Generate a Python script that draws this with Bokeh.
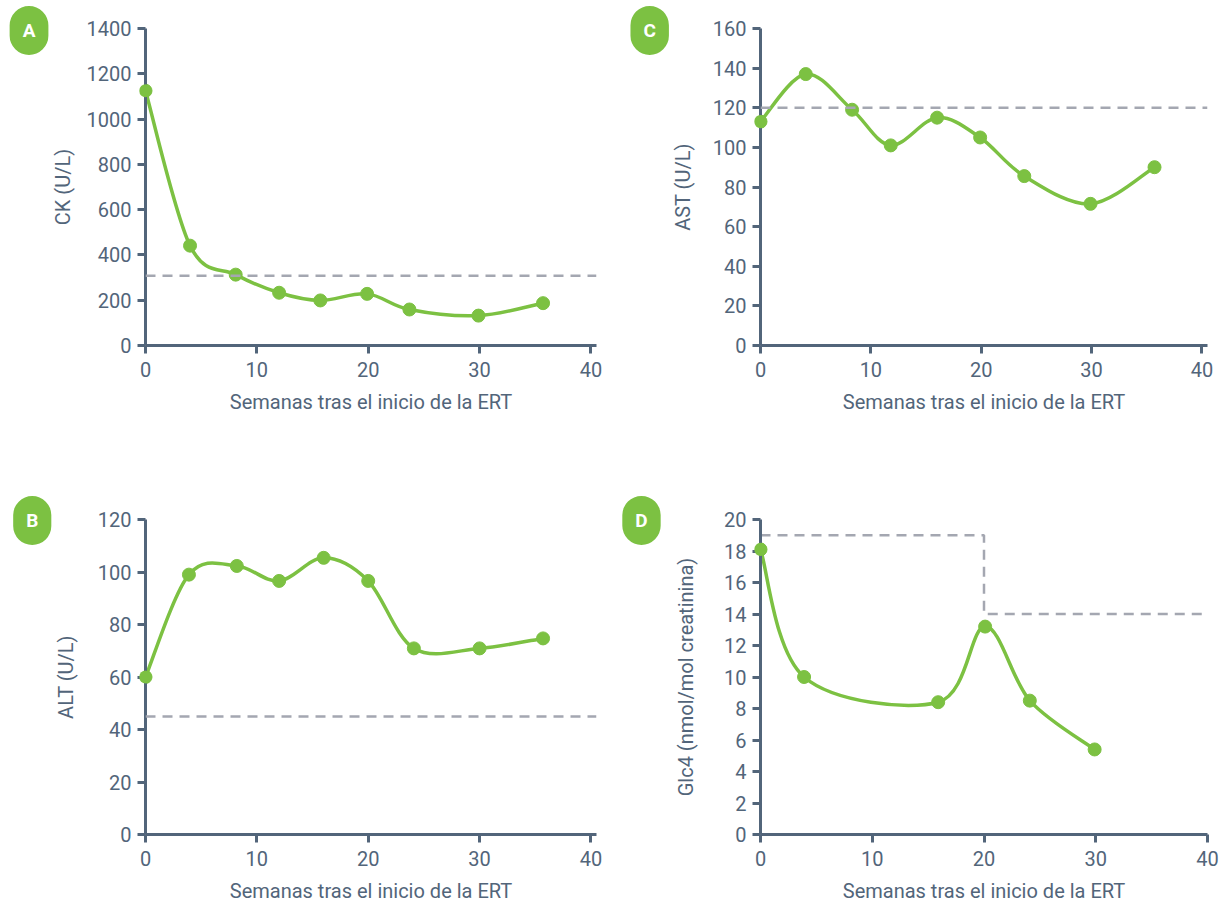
from bokeh.plotting import figure
from bokeh.models import FixedTicker, Label, Span
from bokeh.layouts import gridplot
from bokeh.embed import file_html
from bokeh.resources import INLINE

# ---------------- data ----------------
weeks_ck = [0, 4.0, 8.1, 12.0, 15.7, 19.9, 23.7, 29.9, 35.7]
ck = [1125, 441, 313, 233, 199, 228, 159, 132, 187]
ck_ref = 308

weeks_ast = [0, 4.1, 8.3, 11.8, 16.0, 19.9, 23.9, 29.9, 35.7]
ast = [113, 137, 119, 101, 115, 105, 85.5, 71.5, 90]
ast_ref = 120

weeks_alt = [0, 3.9, 8.2, 12.0, 16.0, 20.0, 24.1, 30.0, 35.7]
alt = [60, 99, 102.3, 96.6, 105.4, 96.6, 70.9, 70.9, 74.7]
alt_ref = 45

weeks_glc = [0, 3.9, 15.9, 20.1, 24.1, 29.9]
glc = [18.1, 10.0, 8.4, 13.2, 8.5, 5.4]
glc_ref_x = [0, 20, 20, 42]
glc_ref_y = [19, 19, 14, 14]

x_ticks = [0, 10, 20, 30, 40]
ck_ticks = [0, 200, 400, 600, 800, 1000, 1200, 1400]
ast_ticks = [0, 20, 40, 60, 80, 100, 120, 140, 160]
alt_ticks = [0, 20, 40, 60, 80, 100, 120]
glc_ticks = [0, 2, 4, 6, 8, 10, 12, 14, 16, 18, 20]

x_label = "Semanas tras el inicio de la ERT"

GREEN = "#7cc142"
SLATE = "#52657a"
GREY = "#a4a7b1"
FONT = "Roboto"


def smooth(p, xs, ys, side):
    """Catmull-Rom style smoothing drawn with Bokeh's bezier glyph."""
    n = len(xs)
    d = dict(x0=[], y0=[], x1=[], y1=[], cx0=[], cy0=[], cx1=[], cy1=[])
    for i in range(n - 1):
        im = max(i - 1, 0)
        ip = min(i + 2, n - 1)
        d["x0"].append(xs[i]); d["y0"].append(ys[i])
        d["x1"].append(xs[i + 1]); d["y1"].append(ys[i + 1])
        d["cx0"].append(xs[i] + (xs[i + 1] - xs[im]) / 6)
        d["cy0"].append(ys[i] + (ys[i + 1] - ys[im]) / 6)
        d["cx1"].append(xs[i + 1] - (xs[ip] - xs[i]) / 6)
        d["cy1"].append(ys[i + 1] - (ys[ip] - ys[i]) / 6)
    p.bezier(source=d, x0="x0", y0="y0", x1="x1", y1="y1",
             cx0="cx0", cy0="cy0", cx1="cx1", cy1="cy1",
             line_color=GREEN, line_width=3.5, line_cap="round")
    p.scatter(xs, ys, size=13, fill_color=GREEN, line_color=GREEN)
    # the point on the y axis would be cut in half by the frame clip:
    # repeat it as an unclipped round marker (data units, side panel)
    p.add_layout(Label(x=xs[0], y=ys[0], text=" ", text_font_size="1px",
                       text_align="center", text_baseline="middle",
                       background_fill_color=GREEN, padding=6, border_radius=7),
                 side)


def make(width, height, bl, br, bt, bb, xmax, ymax, yticks, ylabel, xl_std, yl_std):
    p = figure(width=width, height=height, x_range=(0, xmax), y_range=(0, ymax),
               output_backend="svg", toolbar_location=None,
               min_border_left=bl, min_border_right=br,
               min_border_top=bt, min_border_bottom=bb)
    p.grid.visible = False
    p.outline_line_color = None
    p.background_fill_color = "white"
    p.border_fill_color = "white"
    for ax in (p.xaxis[0], p.yaxis[0]):
        ax.axis_line_color = SLATE
        ax.axis_line_width = 3
        ax.major_tick_line_color = SLATE
        ax.major_tick_line_width = 3
        ax.major_tick_in = 0
        ax.major_tick_out = 8
        ax.minor_tick_line_color = None
        ax.major_label_text_font = FONT
        ax.major_label_text_font_size = "20px"
        ax.major_label_text_color = SLATE
        ax.axis_label_text_font = FONT
        ax.axis_label_text_font_size = "20px"
        ax.axis_label_text_font_style = "normal"
        ax.axis_label_text_color = SLATE
    p.xaxis.ticker = FixedTicker(ticks=x_ticks)
    p.yaxis.ticker = FixedTicker(ticks=yticks)
    p.xaxis.axis_label = x_label
    p.yaxis.axis_label = ylabel
    p.xaxis.major_label_standoff = 8
    p.xaxis.axis_label_standoff = xl_std
    p.yaxis.major_label_standoff = 6
    p.yaxis.axis_label_standoff = yl_std
    return p


def dash(p, ref):
    p.add_layout(Span(location=ref, dimension="width", line_color=GREY,
                      line_width=2.5, line_dash="10 7"))


def badge(p, letter, x, y, side):
    p.add_layout(Label(x=x, y=y, text=letter,
                       text_align="center", text_baseline="middle",
                       text_color="white", text_font=FONT, text_font_style="bold",
                       text_font_size="19px", background_fill_color=GREEN,
                       border_radius=20, padding=13), side)


# A : CK
pa = make(611, 488, 145, 13, 28, 143, 40.5, 1400, ck_ticks, "CK (U/L)", 10, 9)
dash(pa, ck_ref)
smooth(pa, weeks_ck, ck, "below")
badge(pa, "A", -10.46, 1391, "below")

# C : AST
pc = make(610, 488, 146, 8, 28, 143, 40.5, 160, ast_ticks, "AST (U/L)", 10, 15)
dash(pc, ast_ref)
smooth(pc, weeks_ast, ast, "below")
badge(pc, "C", -10.04, 159.0, "below")

# B : ALT
pb = make(611, 417, 142, 15, 31, 70, 40.5, 120, alt_ticks, "ALT (U/L)", 10, 17)
dash(pb, alt_ref)
smooth(pb, weeks_alt, alt, "right")
badge(pb, "B", -10.17, 119.6, "left")

# D : Glc4
pd_ = make(610, 417, 149, 14, 31, 70, 40, 20, glc_ticks, "Glc4 (nmol/mol creatinina)", 10, 23)
pd_.line(glc_ref_x, glc_ref_y, line_color=GREY, line_width=2.5, line_dash="10 7")
smooth(pd_, weeks_glc, glc, "right")
badge(pd_, "D", -10.65, 19.94, "left")

grid = gridplot([[pa, pc], [pb, pd_]], toolbar_location=None)

open("out.html", "w").write(file_html(grid, INLINE))
